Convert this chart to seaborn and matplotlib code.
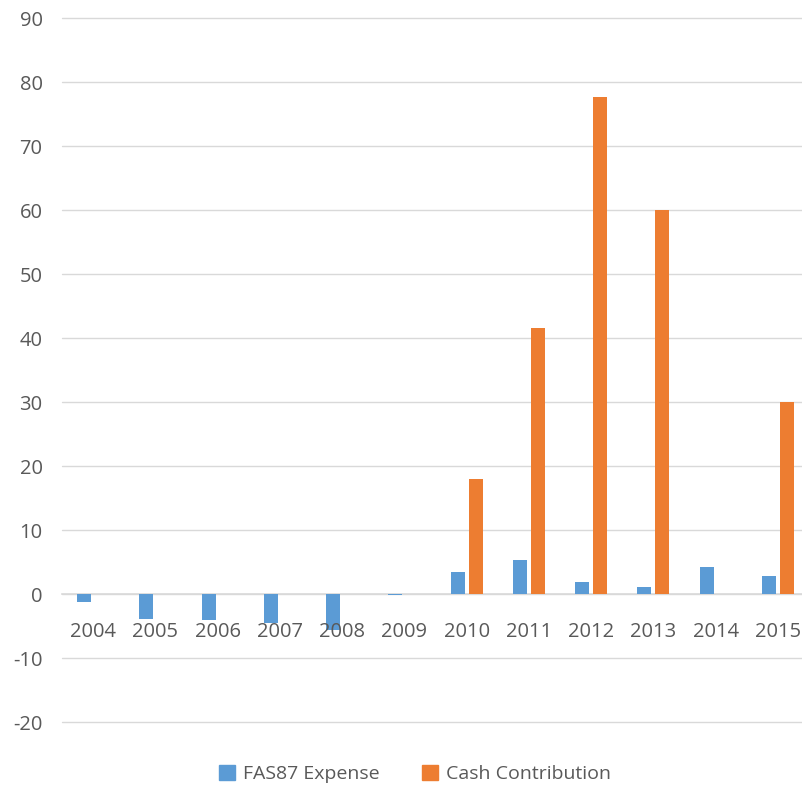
import matplotlib
matplotlib.use("Agg")
import matplotlib.pyplot as plt
import seaborn as sns
import pandas as pd
from matplotlib.patches import Patch

years = ["2004", "2005", "2006", "2007", "2008", "2009", "2010", "2011", "2012", "2013", "2014", "2015"]
fas87_expense = [-1.25, -3.9, -4.0, -4.5, -5.7, -0.15, 3.5, 5.3, 1.8, 1.15, 4.2, 2.8]
cash_contribution = [0, 0, 0, 0, 0, 0, 18, 41.6, 77.7, 60, 0, 30]
series_names = ["FAS87 Expense", "Cash Contribution"]
colors = ["#5B9BD5", "#ED7D31"]

df = pd.DataFrame({
    "Year": years * 2,
    "Value": fas87_expense + cash_contribution,
    "Series": [series_names[0]] * len(years) + [series_names[1]] * len(years),
})

sns.set_theme(style="white")
plt.rcParams["font.family"] = ["Open Sans", "DejaVu Sans"]
plt.rcParams["axes.unicode_minus"] = False

fig = plt.figure(figsize=(8.03, 7.86), dpi=100)
ax = fig.add_axes([62 / 803, 64 / 786, 747 / 803, 704 / 786])

sns.barplot(data=df, x="Year", y="Value", hue="Series", palette=colors,
            width=0.58, gap=0.22, ax=ax, legend=False, saturation=1,
            linewidth=0, edgecolor="none")

ax.set_xlim(-0.5, 11.5)
ax.set_ylim(-20, 90)
ax.set_yticks(range(-20, 91, 10))
ax.yaxis.grid(True, color="#d9d9d9", linewidth=1)
for gl in ax.yaxis.get_gridlines():
    gl.set_clip_on(False)
ax.set_axisbelow(True)
ax.xaxis.set_zorder(3)
for s in ["top", "right", "left"]:
    ax.spines[s].set_visible(False)
ax.spines["bottom"].set_position(("data", 0))
ax.spines["bottom"].set_color("#d9d9d9")
ax.spines["bottom"].set_linewidth(1.2)
ax.spines["bottom"].set_zorder(0.6)
ax.set_xlabel("")
ax.set_ylabel("")
ax.tick_params(axis="y", length=0, pad=14, labelsize=14.5, labelcolor="#595959")
ax.tick_params(axis="x", length=0, pad=20, labelsize=14.5, labelcolor="#595959")

handles = [Patch(color=c, label=n) for c, n in zip(colors, series_names)]
fig.legend(handles=handles, loc="center", bbox_to_anchor=(415 / 803, 1 - 774 / 786),
           ncol=2, frameon=False, fontsize=14, handlelength=0.8, handleheight=0.8,
           handletextpad=0.4, columnspacing=2.2, labelcolor="#595959")

fig.savefig("out.png", dpi=100)
